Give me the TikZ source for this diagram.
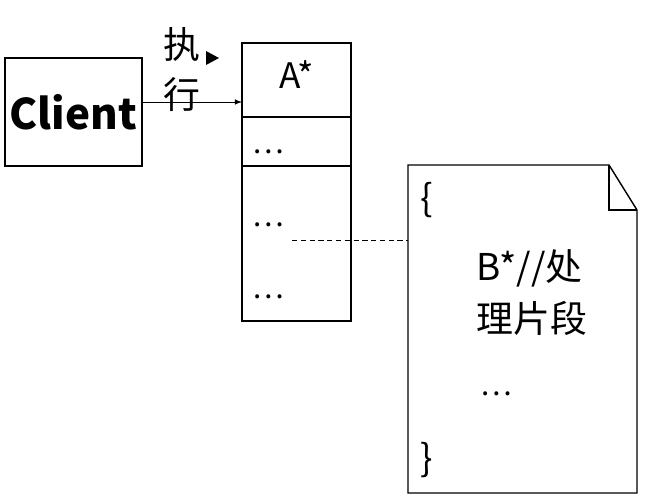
\documentclass[tikz,border=0pt]{standalone}
\usepackage{fontspec}
\setmainfont{Noto Sans CJK SC}
\usetikzlibrary{positioning}
\begin{document}
\begin{tikzpicture}[x=0.02cm,y=-0.02cm,>=latex]
 \tikzstyle{box} = [draw=black,fill=white,thick,inner sep=0]
 \tikzstyle{txt} = [inner sep=0,font=\fontsize{17}{17}\selectfont]
 \tikzstyle{big} = [inner sep=0,font=\fontsize{21}{21}\selectfont]
 \useasboundingbox (0,0) rectangle (658,500);

% Client
 \node[box,minimum width=137*0.02cm,minimum height=108*0.02cm] (client) at (73.5,112) {};
 \node[txt,font=\fontsize{24}{24}\selectfont\bfseries] (clienttxt) at (client) {Client};

% Stack
 \draw[thick] (242,43) rectangle (351,321);
 \draw[thick] (242,117) -- (351,117);
 \draw[thick] (242,166) -- (351,166);
 \node[txt,font=\fontsize{20}{20}\selectfont] (a) at (297,75) {A*};
 \node[txt] (d1) at (268,152) {\dots};
 \node[txt] (d2) at (268,225) {\dots};
 \node[txt] (d3) at (268,297) {\dots};
 \coordinate (in) at (242,102);
 \draw[->] (client.east |- in) -- (in);
 \node[big] (l1) at (182,45) {执};
 \node[big] (l2) at (182,95) {行};
 \fill (206,51) -- (219,58) -- (206,65) -- cycle;

% Note
 \draw[thick,fill=white] (408,165) -- (609,165) -- (637,210) -- (637,493) -- (408,493) -- cycle;
 \draw[thick] (609,165) -- (609,210) -- (637,210);
 \coordinate (n) at (408,240);
 \draw[densely dashed] (292,240) -- (n);
 \node[big] (ob) at (427,200) {\{};
 \node[big,anchor=west] (b1) at (476,268) {B*//处};
 \node[big,anchor=west] (b2) at (476,318) {理片段};
 \node[txt] (d4) at (496,394) {\dots};
 \node[big] (cb) at (427,460) {\}};
\end{tikzpicture}
\end{document}
